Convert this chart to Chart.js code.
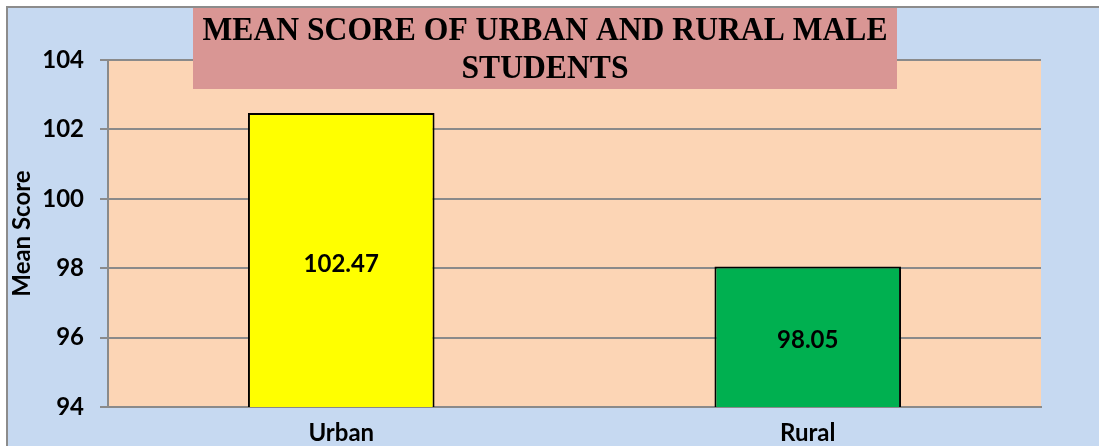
<!DOCTYPE html>
<html>
<head>
<meta charset="utf-8">
<script src="https://cdn.jsdelivr.net/npm/chart.js@4"></script>
<style>
  html, body { margin: 0; padding: 0; background: #fff; }
  #wrap { width: 1099px; height: 446px; }
</style>
</head>
<body>
<div id="wrap"><canvas id="chart" width="1099" height="446"></canvas></div>
<script>
// data
const categories = ['Urban', 'Rural'];
const meanScores = [102.47, 98.05];
const barColors = ['#FFFF00', '#00B050'];
const titleLines = ['MEAN SCORE OF URBAN AND RURAL MALE', 'STUDENTS'];

const gridColor = '#8a8a8a';

// background frame + plot area fill
const backdrop = {
	id: 'backdrop',
	beforeDraw(chart) {
		const { ctx, chartArea: a, width, height } = chart;
		ctx.save();
		ctx.fillStyle = '#ffffff';
		ctx.fillRect(0, 0, width, height);
		ctx.fillStyle = '#C6D9F1';
		ctx.fillRect(8, 8, width - 8, height - 8);
		ctx.strokeStyle = '#8c8c8c';
		ctx.lineWidth = 2;
		ctx.beginPath();
		ctx.moveTo(7, height);
		ctx.lineTo(7, 7);
		ctx.lineTo(width, 7);
		ctx.stroke();
		ctx.fillStyle = '#FCD5B5';
		ctx.fillRect(a.left, a.top, a.right - a.left, a.bottom - a.top);
		ctx.restore();
	}
};

// title box over the top of the plot + value labels in the bars
const overlay = {
	id: 'overlay',
	afterDraw(chart) {
		const { ctx } = chart;
		const yScale = chart.scales.y;
		const xScale = chart.scales.x;
		const basePx = yScale.getPixelForValue(yScale.min);
		ctx.save();
		ctx.fillStyle = '#000';
		ctx.textAlign = 'center';
		ctx.textBaseline = 'middle';
		ctx.font = 'bold 24px Lato, sans-serif';
		meanScores.forEach((v, i) => {
			const x = xScale.getPixelForValue(i);
			const top = yScale.getPixelForValue(v);
			ctx.fillText(v.toFixed(2), x, (top + basePx) / 2 + 4);
		});

		ctx.fillStyle = '#D99694';
		ctx.fillRect(193, 8, 704, 81);
		ctx.fillStyle = '#000';
		ctx.font = 'bold 34px "Liberation Serif", serif';
		titleLines.forEach((line, i) => {
			ctx.save();
			ctx.translate(545, 31 + i * 38);
			ctx.scale(0.93, 1);
			ctx.fillText(line, 0, 0);
			ctx.restore();
		});
		ctx.restore();
	}
};

new Chart(document.getElementById('chart'), {
	type: 'bar',
	data: {
		labels: categories,
		datasets: [{
			data: meanScores,
			backgroundColor: barColors,
			borderColor: '#000',
			borderWidth: 2,
			borderSkipped: false,
			categoryPercentage: 0.4,
			barPercentage: 1
		}]
	},
	options: {
		responsive: false,
		animation: false,
		layout: { padding: { left: 8, top: 60, right: 58, bottom: 0 } },
		plugins: {
			legend: { display: false },
			title: { display: false },
			tooltip: { enabled: false }
		},
		scales: {
			x: {
				grid: { display: false, drawTicks: false },
				border: { color: gridColor, width: 2 },
				ticks: {
					color: '#000',
					font: { family: 'Lato', size: 24, weight: 'bold' },
					padding: 12
				},
				afterFit(scale) { scale.height = 39; }
			},
			y: {
				min: 94,
				max: 104,
				grid: {
					color: gridColor,
					lineWidth: 2,
					drawTicks: true,
					tickLength: 8,
					tickColor: gridColor
				},
				border: { color: gridColor, width: 2 },
				ticks: {
					stepSize: 2,
					color: '#000',
					font: { family: 'Lato', size: 24, weight: 'bold' },
					padding: 16
				},
				title: {
					display: true,
					text: 'Mean Score',
					color: '#000',
					font: { family: 'Lato', size: 24, weight: 'bold' },
					padding: 0
				},
				afterFit(scale) { scale.width = 100; }
			}
		}
	},
	plugins: [backdrop, overlay]
});
</script>
</body>
</html>
